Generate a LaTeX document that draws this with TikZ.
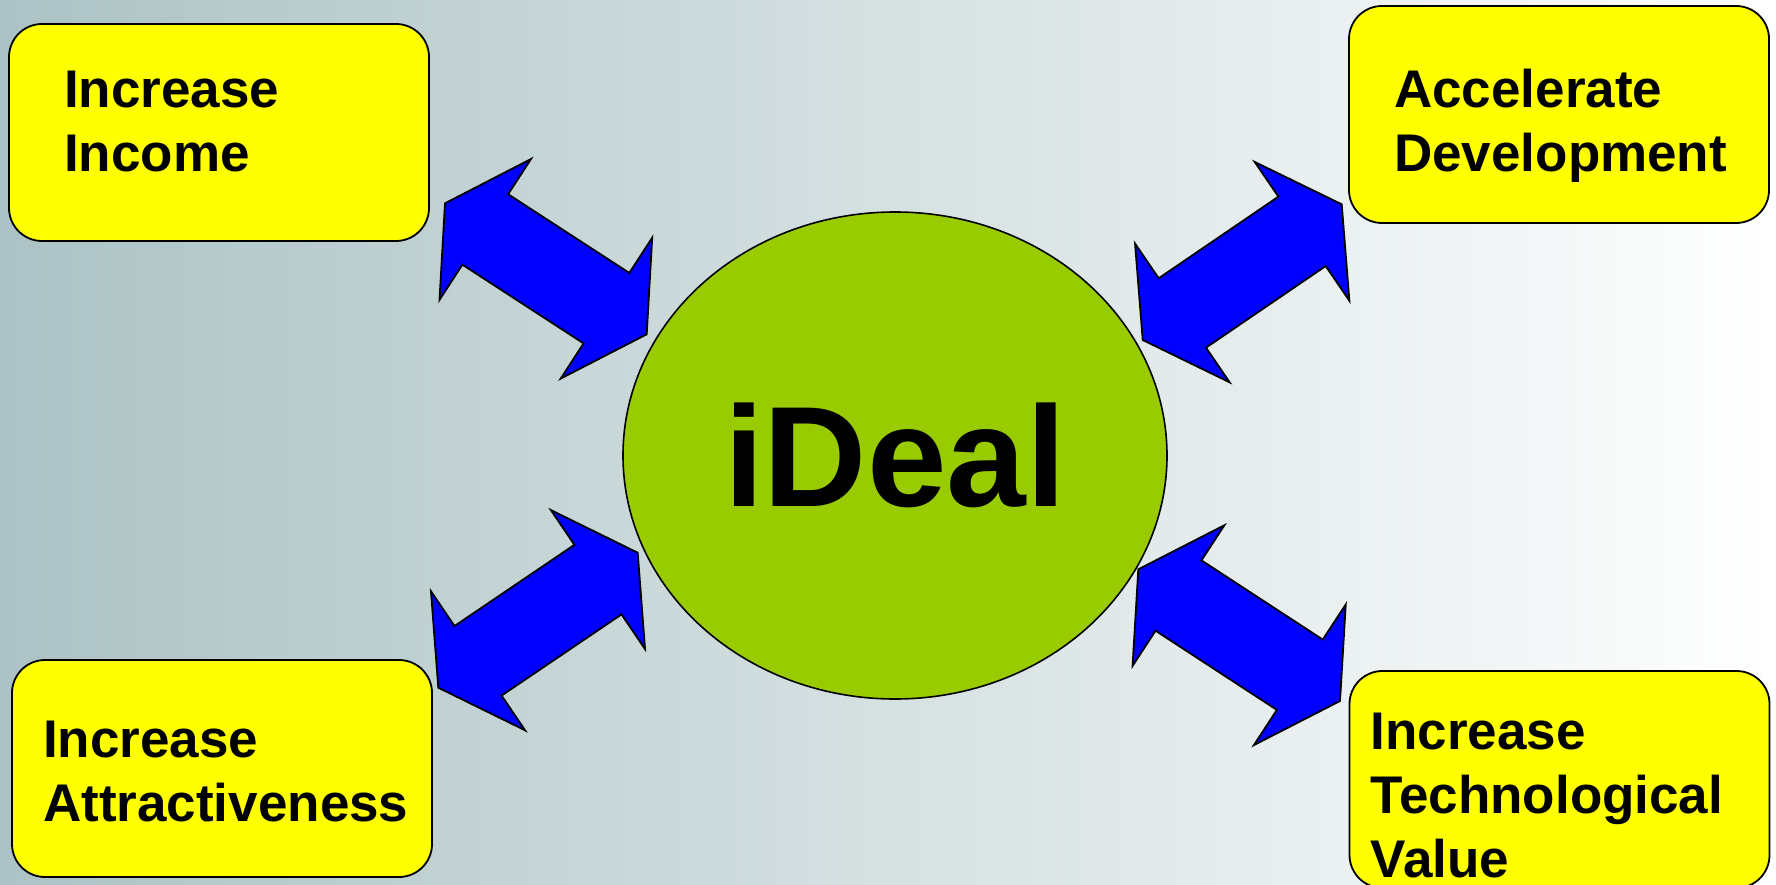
\documentclass[tikz,border=0pt]{standalone}
\usepackage{fontspec}
\setmainfont{Liberation Sans}
\usetikzlibrary{calc,shapes.geometric}
\definecolor{yc}{RGB}{255,255,0}
\definecolor{gc}{RGB}{153,204,0}
\definecolor{bc}{RGB}{0,0,255}
\definecolor{bgl}{RGB}{172,194,196}
\tikzset{r/.style={draw,fill=yc,line width=1.8pt,rounded corners=33pt,minimum width=420pt,minimum height=217pt,inner sep=0pt},
 txt/.style={anchor=base west,align=left,text width=400pt,inner sep=0pt,font=\bfseries\fontsize{53}{64}\selectfont},
 el/.style={draw,ellipse,fill=gc,line width=1.6pt,minimum width=544pt,minimum height=487pt,inner sep=0pt,font=\bfseries\fontsize{143}{170}\selectfont},
 blockarr/.style={draw,fill=bc,line width=1.8pt,line join=miter}}
\newcommand\dblarrow[2]{%
 \coordinate (#1b) at ($(#1)!48pt!(#2)$);\coordinate (#2b) at ($(#2)!48pt!(#1)$);
 \draw[blockarr] (#1) -- ($(#1b)!84pt!90:(#2)$) -- ($(#1b)!42pt!90:(#2)$) -- ($(#2b)!42pt!-90:(#1)$) -- ($(#2b)!84pt!-90:(#1)$)
  -- (#2) -- ($(#2b)!84pt!90:(#1)$) -- ($(#2b)!42pt!90:(#1)$) -- ($(#1b)!42pt!-90:(#2)$) -- ($(#1b)!84pt!-90:(#2)$) -- cycle;}
\begin{document}
\begin{tikzpicture}[x=1pt,y=-1pt]
\clip (0,0) rectangle (1776,885);
\shade[left color=bgl,right color=white] (0,0) rectangle (1776,885);
\node[r] (inc) at (219,132.5) {};
\node[r] (att) at (222,768.5) {};
\node[r] (acc) at (1559,114.5) {};
\node[r] (tech) at (1559.5,779.5) {};
\node[txt] (inct) at (64,108) {Increase\\Income};
\node[txt] (attt) at (43,757) {Increase\\Attractiveness};
\node[txt] (acct) at (1394,108) {Accelerate\\Development};
\node[txt] (techt) at (1370.5,749) {Increase\\Technological\\Value};
\node[el] (ideal) at (895,455.5) {iDeal};
\coordinate (a1) at (445,203.3);\coordinate (b1) at (646.7,334.3);
\coordinate (a2) at (1142.7,340);\coordinate (b2) at (1341.7,204.3);
\coordinate (a3) at (1138.3,569.3);\coordinate (b3) at (1340,701);
\coordinate (a4) at (438.3,687.7);\coordinate (b4) at (637.7,552.7);
\dblarrow{a1}{b1}\dblarrow{a2}{b2}\dblarrow{a3}{b3}\dblarrow{a4}{b4}
\end{tikzpicture}
\end{document}
